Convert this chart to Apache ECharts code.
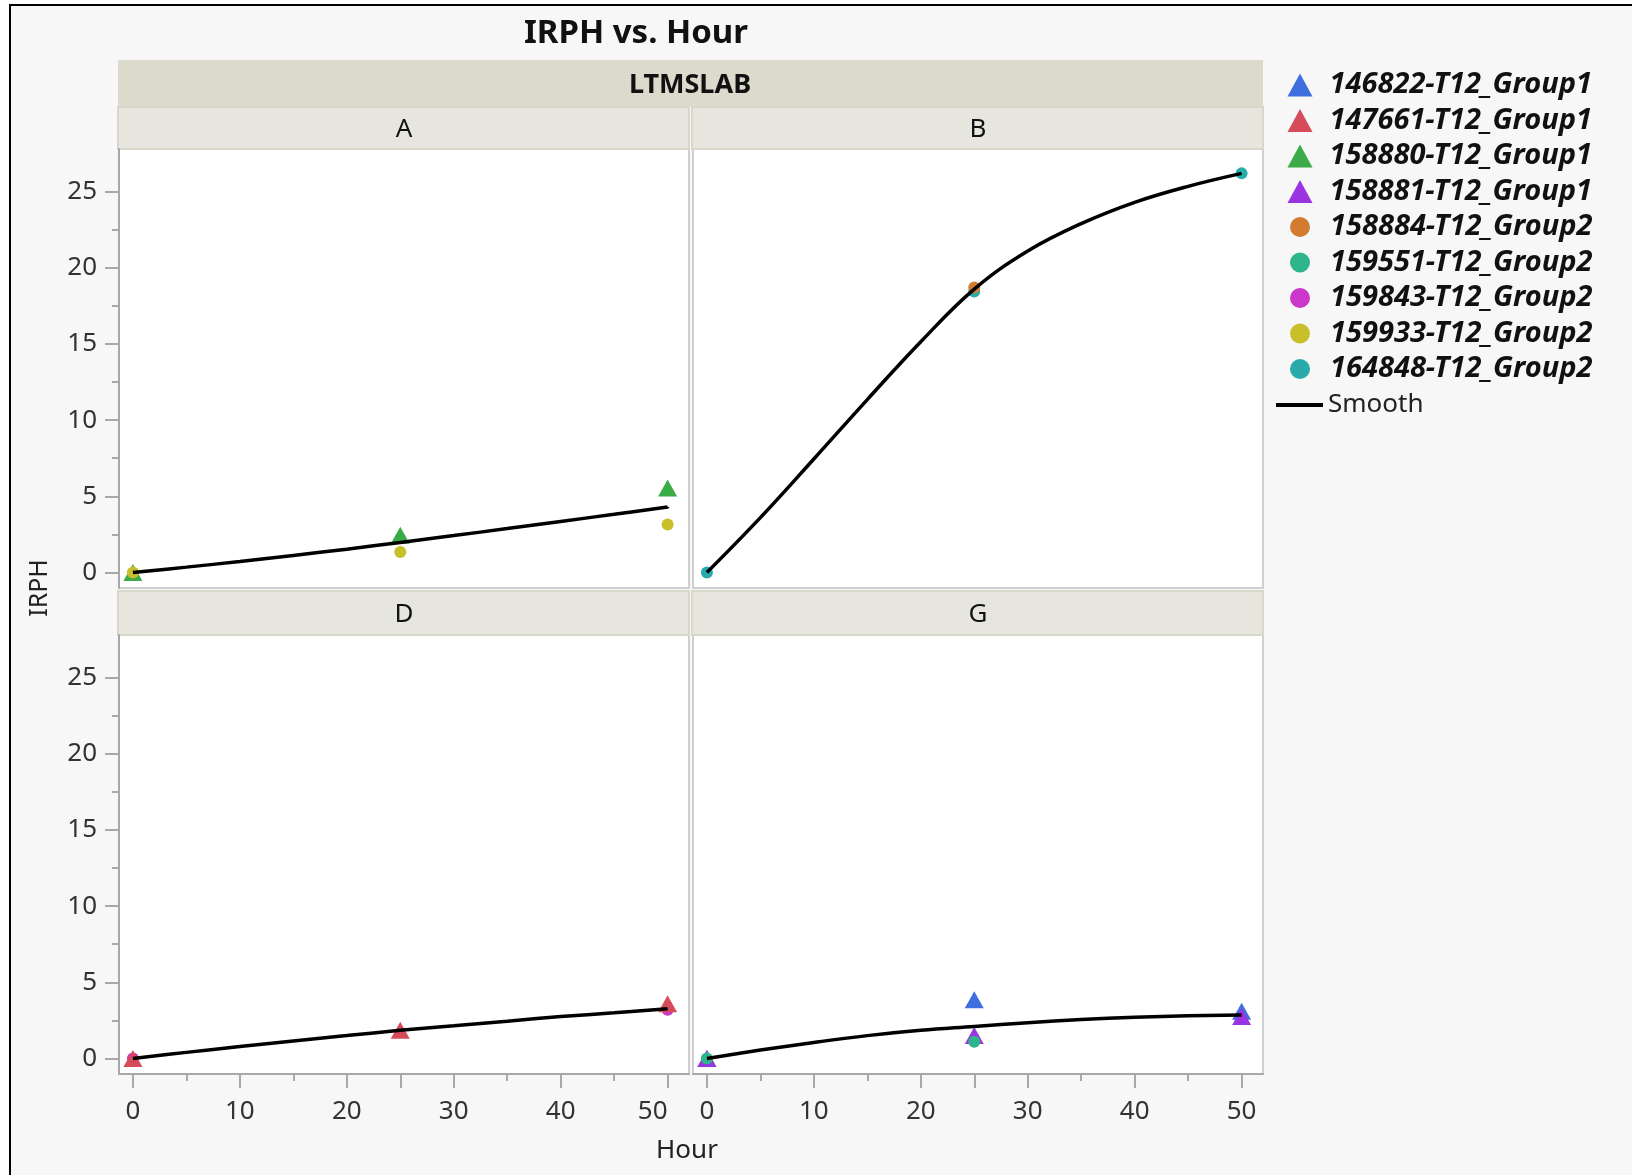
<!DOCTYPE html>
<html>
<head>
<meta charset="utf-8">
<title>IRPH vs. Hour</title>
<script src="https://cdn.jsdelivr.net/npm/echarts@6/dist/echarts.min.js"></script>
<style>
html, body { margin: 0; padding: 0; background: #fff; }
#main { width: 1632px; height: 1175px; }
</style>
</head>
<body>
<div id="main"></div>
<script>
// hours where samples were taken
const hours = [0, 25, 50]

// panel A
const a158880 = [0, 2.45, 5.55]
const a159933 = [0, 1.35, 3.15]
// panel B
const b164848 = [0, 18.45, 26.2]
const b158884 = [null, 18.7, null]
// panel D
const d159843 = [0, null, 3.2]
const d147661 = [0, 1.85, 3.6]
// panel G
const g146822 = [0, 3.85, 3.1]
const g158881 = [0, 1.5, 2.75]
const g159551 = [0, 1.1, null]

// smoother curve
const smoothX = [0, 5, 10, 15, 20, 25, 30, 35, 40, 45, 50]
const smoothA = [0, 0.35, 0.72, 1.12, 1.53, 1.97, 2.42, 2.88, 3.35, 3.82, 4.3]
const smoothB = [0, 3.6, 7.45, 11.35, 15.15, 18.6, 21.1, 22.9, 24.3, 25.35, 26.2]
const smoothD = [0, 0.4, 0.78, 1.15, 1.5, 1.85, 2.15, 2.45, 2.75, 3.0, 3.27]
const smoothG = [0, 0.55, 1.05, 1.5, 1.85, 2.1, 2.35, 2.55, 2.7, 2.8, 2.85]

// axis ticks
const yLabels = [0, 5, 10, 15, 20, 25]
const yMinor = [2.5, 7.5, 12.5, 17.5, 22.5]
const xLabels = [0, 10, 20, 30, 40, 50]
const xMajor = [0, 10, 20, 25, 30, 40, 50]
const xMinor = [5, 15, 35, 45]

const panelNames = ['A', 'B', 'D', 'G']
const triNames = ['146822-T12_Group1', '147661-T12_Group1', '158880-T12_Group1', '158881-T12_Group1']
const dotNames = ['158884-T12_Group2', '159551-T12_Group2', '159843-T12_Group2', '159933-T12_Group2', '164848-T12_Group2']

const colors = {
	'146822-T12_Group1': '#3f6fdf',
	'147661-T12_Group1': '#d64b5a',
	'158880-T12_Group1': '#3aab46',
	'158881-T12_Group1': '#9a33e0',
	'158884-T12_Group2': '#d27b31',
	'159551-T12_Group2': '#2eb58c',
	'159843-T12_Group2': '#cb36cb',
	'159933-T12_Group2': '#c9bf2b',
	'164848-T12_Group2': '#2aabab'
}

// which points go in which panel (0=A 1=B 2=D 3=G), in drawing order
const markers = [
	{ name: '158880-T12_Group1', panel: 0, ys: a158880 },
	{ name: '159933-T12_Group2', panel: 0, ys: a159933 },
	{ name: '164848-T12_Group2', panel: 1, ys: b164848 },
	{ name: '158884-T12_Group2', panel: 1, ys: b158884 },
	{ name: '159843-T12_Group2', panel: 2, ys: d159843 },
	{ name: '147661-T12_Group1', panel: 2, ys: d147661 },
	{ name: '146822-T12_Group1', panel: 3, ys: g146822 },
	{ name: '158881-T12_Group1', panel: 3, ys: g158881 },
	{ name: '159551-T12_Group2', panel: 3, ys: g159551 }
]
const smooths = [smoothA, smoothB, smoothD, smoothG]

const xMin = -1.3, xMax = 52
const yMin = -1.02, yMax = 27.8

// panel boxes in px
const boxes = [
	{ left: 119, top: 149 },
	{ left: 693, top: 149 },
	{ left: 119, top: 635 },
	{ left: 693, top: 635 }
]
const boxW = 570, boxH = 439

const axisGrey = '#a8a8a8'
const labelStyle = { fontSize: 26, color: '#333', fontFamily: 'Noto Sans' }

const pts = (ys) => hours.map((h, i) => [h, ys[i]]).filter(p => p[1] != null)

const xAxes = boxes.map((b, i) => {
	const show = i >= 2
	return {
		type: 'value', gridIndex: i, position: 'bottom', min: xMin, max: xMax, show: show,
		splitLine: { show: false },
		axisLine: { show: true, onZero: false, lineStyle: { color: axisGrey, width: 2 } },
		axisTick: { show: true, length: 14, customValues: xMajor, lineStyle: { color: axisGrey, width: 2 } },
		// the 50 of the left panel sits left of its tick so it does not hit the 0 next to it
		axisLabel: Object.assign({ show: true, margin: 25, customValues: xLabels, alignMaxLabel: i === 2 ? 'right' : null }, labelStyle)
	}
})
// short ticks on the hour axes
;[2, 3].forEach(g => {
	xAxes.push({
		type: 'value', gridIndex: g, position: 'bottom', min: xMin, max: xMax,
		splitLine: { show: false },
		axisLine: { show: false, onZero: false },
		axisLabel: { show: false },
		axisTick: { show: true, length: 7, customValues: xMinor, lineStyle: { color: axisGrey, width: 2 } }
	})
})

const yAxes = boxes.map((b, i) => {
	const show = i === 0 || i === 2
	return {
		type: 'value', gridIndex: i, position: 'left', min: yMin, max: yMax, show: show,
		splitLine: { show: false },
		axisLine: { show: true, onZero: false, lineStyle: { color: axisGrey, width: 2 } },
		axisTick: { show: true, length: 14, customValues: yLabels, lineStyle: { color: axisGrey, width: 2 } },
		axisLabel: Object.assign({ show: true, margin: 22, customValues: yLabels }, labelStyle)
	}
})
;[0, 2].forEach(g => {
	yAxes.push({
		type: 'value', gridIndex: g, position: 'left', min: yMin, max: yMax,
		splitLine: { show: false },
		axisLine: { show: false, onZero: false },
		axisLabel: { show: false },
		axisTick: { show: true, length: 7, customValues: yMinor, lineStyle: { color: axisGrey, width: 2 } }
	})
})

const series = []
markers.forEach(m => {
	const tri = triNames.indexOf(m.name) >= 0
	series.push({
		type: 'scatter', name: m.name,
		xAxisIndex: m.panel, yAxisIndex: m.panel,
		data: pts(m.ys),
		symbol: tri ? 'triangle' : 'circle',
		symbolSize: tri ? [19, 17] : 12,
		itemStyle: { color: colors[m.name], opacity: 1 },
		emphasis: { disabled: true },
		z: 2
	})
})
smooths.forEach((ys, i) => {
	series.push({
		type: 'line', name: 'Smooth',
		xAxisIndex: i, yAxisIndex: i,
		data: smoothX.map((x, k) => [x, ys[k]]),
		smooth: 0.4, symbol: 'none', showSymbol: false,
		lineStyle: { color: '#000', width: 3.5 },
		itemStyle: { color: '#000' },
		z: 4
	})
})

const legendText = { fontFamily: 'Noto Sans', fontSize: 29, fontWeight: 'bold', fontStyle: 'italic', color: '#111' }

// headers, title and frame
const graphics = [
	{ type: 'rect', z: -10, shape: { x: 10, y: 5, width: 1640, height: 1180 }, style: { fill: '#f7f7f7', stroke: '#000', lineWidth: 2 } },
	{ type: 'text', x: 636, y: 34, style: { text: 'IRPH vs. Hour', font: 'bold 33px "Noto Sans"', fill: '#111', align: 'center', verticalAlign: 'middle' } },
	{ type: 'rect', shape: { x: 118, y: 60, width: 1145, height: 46 }, style: { fill: '#dcdacc' } },
	{ type: 'text', x: 690, y: 85, style: { text: 'LTMSLAB', font: 'bold 27px "Noto Sans"', fill: '#111', align: 'center', verticalAlign: 'middle' } },
	{ type: 'text', x: 40, y: 588, rotation: Math.PI / 2, style: { text: 'IRPH', font: '25px "Noto Sans"', fill: '#222', align: 'center', verticalAlign: 'middle' } },
	{ type: 'text', x: 687, y: 1151, style: { text: 'Hour', font: '26px "Noto Sans"', fill: '#222', align: 'center', verticalAlign: 'middle' } }
]
boxes.forEach((b, i) => {
	const hy = i < 2 ? 107 : 591
	const hh = i < 2 ? 42 : 44
	graphics.push({ type: 'rect', shape: { x: b.left - 1, y: hy, width: boxW + 1, height: hh }, style: { fill: '#e7e6de', stroke: '#d8d7ca', lineWidth: 2 } })
	graphics.push({ type: 'text', x: b.left + boxW / 2, y: hy + hh / 2 + 2, style: { text: panelNames[i], font: '26px "Noto Sans"', fill: '#111', align: 'center', verticalAlign: 'middle' } })
})

const option = {
	backgroundColor: '#ffffff',
	animation: false,
	textStyle: { fontFamily: 'Noto Sans' },
	grid: boxes.map(b => ({
		left: b.left, top: b.top, width: boxW, height: boxH,
		show: true, backgroundColor: '#fff', borderColor: '#cfcfcf', borderWidth: 2
	})),
	xAxis: xAxes,
	yAxis: yAxes,
	legend: [
		{
			orient: 'vertical', left: 1287.5, top: 70.5, padding: 0, itemGap: 6.5,
			itemWidth: 25, itemHeight: 23, icon: 'triangle', selectedMode: false,
			data: triNames, textStyle: Object.assign({ padding: [0, 0, 0, 12] }, legendText)
		},
		{
			orient: 'vertical', left: 1290, top: 212.5, padding: 0, itemGap: 6.5,
			itemWidth: 20, itemHeight: 20, icon: 'circle', selectedMode: false,
			data: dotNames, textStyle: Object.assign({ padding: [0, 0, 0, 15] }, legendText)
		},
		{
			orient: 'vertical', left: 1276, top: 392, padding: 0,
			itemWidth: 47, itemHeight: 4, icon: 'rect', selectedMode: false,
			data: ['Smooth'],
			textStyle: { fontFamily: 'Noto Sans', fontSize: 26, color: '#222', padding: [0, 0, 0, 0] }
		}
	],
	graphic: graphics,
	series: series
}

const myChart = echarts.init(document.getElementById('main'))
myChart.setOption(option)
</script>
</body>
</html>
